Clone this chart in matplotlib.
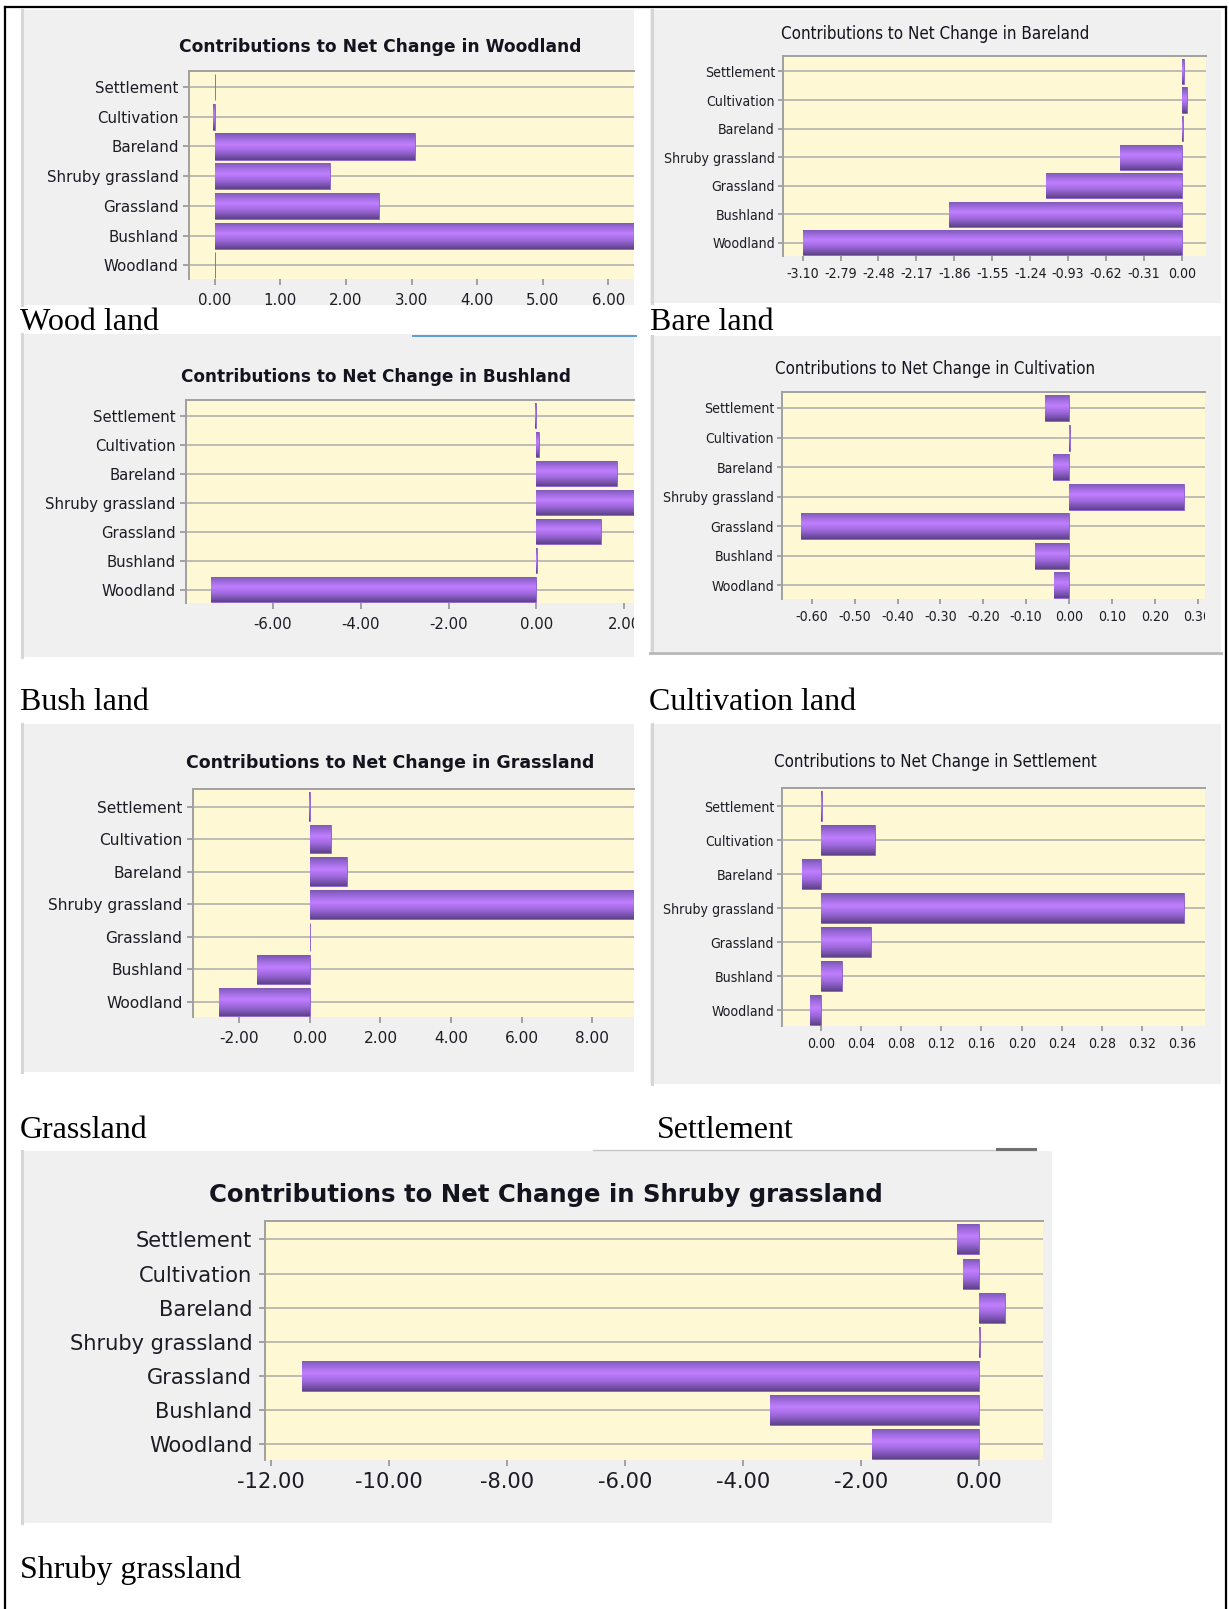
import matplotlib
matplotlib.use("Agg")
import matplotlib.pyplot as plt
import numpy as np
from matplotlib import font_manager as fm
from matplotlib.patches import Rectangle
from matplotlib.lines import Line2D
from matplotlib.colors import LinearSegmentedColormap
from matplotlib.transforms import Bbox, TransformedBbox

# ---------------- data ----------------
categories = ["Settlement", "Cultivation", "Bareland", "Shruby grassland",
              "Grassland", "Bushland", "Woodland"]

woodland_vals = [0.01, -0.02, 3.06, 1.76, 2.50, 7.42, 0.01]
bareland_vals = [0.018, 0.04, 0.005, -0.503, -1.113, -1.90, -3.095]
bushland_vals = [-0.03, 0.05, 1.83, 3.55, 1.48, 0.01, -7.41]
cultivation_vals = [-0.057, 0.002, -0.038, 0.269, -0.625, -0.079, -0.034]
grassland_vals = [-0.03, 0.60, 1.04, 11.47, 0.01, -1.50, -2.58]
settlement_vals = [0.001, 0.054, -0.019, 0.362, 0.050, 0.021, -0.011]
shruby_vals = [-0.38, -0.27, 0.44, 0.01, -11.47, -3.55, -1.81]

woodland_ticks = [0.00, 1.00, 2.00, 3.00, 4.00, 5.00, 6.00]
bareland_ticks = [-3.10, -2.79, -2.48, -2.17, -1.86, -1.55, -1.24, -0.93, -0.62, -0.31, 0.00]
bushland_ticks = [-6.00, -4.00, -2.00, 0.00, 2.00]
cultivation_ticks = [-0.60, -0.50, -0.40, -0.30, -0.20, -0.10, 0.00, 0.10, 0.20, 0.30]
grassland_ticks = [-2.00, 0.00, 2.00, 4.00, 6.00, 8.00]
settlement_ticks = [0.00, 0.04, 0.08, 0.12, 0.16, 0.20, 0.24, 0.28, 0.32, 0.36]
shruby_ticks = [-12.00, -10.00, -8.00, -6.00, -4.00, -2.00, 0.00]

titles = ["Contributions to Net Change in Woodland",
          "Contributions to Net Change in Bareland",
          "Contributions to Net Change in Bushland",
          "Contributions to Net Change in Cultivation",
          "Contributions to Net Change in Grassland",
          "Contributions to Net Change in Settlement",
          "Contributions to Net Change in Shruby grassland"]
captions = ["Wood land", "Bare land", "Bush land", "Cultivation land",
            "Grassland", "Settlement", "Shruby grassland"]

# ---------------- fonts ----------------
_ttf = fm.fontManager.ttflist
_names = {f.name for f in _ttf}
if "Liberation Sans Narrow" in _names:
    NARROW = dict(fontfamily="Liberation Sans Narrow", fontstretch="normal")
elif any(f.name == "DejaVu Sans" and str(f.stretch) in ("condensed", "semi-condensed")
         for f in _ttf):
    NARROW = dict(fontfamily="DejaVu Sans", fontstretch="condensed")
else:
    NARROW = dict(fontfamily="Liberation Sans", fontstretch="normal")
WIDE = dict(fontfamily="DejaVu Sans", fontstretch="normal")

# ---------------- figure ----------------
W, H = 1229, 1609
fig = plt.figure(figsize=(W / 100, H / 100), dpi=100)
fig.patch.set_facecolor("white")
renderer = fig.canvas.get_renderer()


def fx(x):
    return x / W


def fy(y):
    return 1 - y / H


def add_rect(x0, y0, x1, y1, color, z=-5):
    fig.patches.append(Rectangle((fx(x0), fy(y1)), (x1 - x0) / W, (y1 - y0) / H,
                                 transform=fig.transFigure, facecolor=color,
                                 edgecolor="none", zorder=z))


def add_line(xs, ys, color, lw, z=-4, ls="-"):
    fig.lines.append(Line2D([fx(x) for x in xs], [fy(y) for y in ys],
                            transform=fig.transFigure, color=color, lw=lw,
                            zorder=z, ls=ls))


def fit_size(text, font, weight, target_px, base=12.0):
    t = fig.text(0, 0, text, fontsize=base, fontweight=weight, **font)
    w = t.get_window_extent(renderer).width
    t.remove()
    return base * target_px / w


cmap = LinearSegmentedColormap.from_list(
    "barg", [(0.0, "#7a56b2"), (0.15, "#9567d3"), (0.42, "#c17fff"),
             (0.68, "#9d68db"), (0.88, "#7651ab"), (1.0, "#5e4287")])
grad = np.linspace(0, 1, 64).reshape(-1, 1)

styles = {
    "A": dict(font=WIDE, tweight="bold", tlen=4.3, ypad=3.2, xpad=5.6),
    "B": dict(font=NARROW, tweight="normal", tlen=3.6, ypad=2.2, xpad=4.6),
    "C": dict(font=WIDE, tweight="bold", tlen=4.6, ypad=4.5, xpad=4.0),
}

panels = [
    dict(vals=woodland_vals, ticks=woodland_ticks, style="A", bg=(21, 10, 634, 305),
         plot=(189, 71, 634, 279), xlim=(-0.39, 6.39), title_xy=(380, 47),
         title_w=400, label_w=130, cap_xy=(20, 322)),
    dict(vals=bareland_vals, ticks=bareland_ticks, style="B", bg=(650, 10, 1221, 303),
         plot=(783, 56, 1206, 256), xlim=(-3.26, 0.196), title_xy=(935, 34),
         title_w=308, label_w=110, cap_xy=(650, 322)),
    dict(vals=bushland_vals, ticks=bushland_ticks, style="A", bg=(21, 334, 634, 657),
         plot=(186, 400, 634, 603), xlim=(-7.98, 2.22), title_xy=(376, 377),
         title_w=387, label_w=129, cap_xy=(20, 703)),
    dict(vals=cultivation_vals, ticks=cultivation_ticks, style="B", bg=(650, 336, 1221, 652),
         plot=(782, 392, 1205, 599), xlim=(-0.670, 0.3175), title_xy=(935, 369),
         title_w=320, label_w=110, cap_xy=(649, 703)),
    dict(vals=grassland_vals, ticks=grassland_ticks, style="A", bg=(21, 724, 634, 1072),
         plot=(193, 789, 634, 1017), xlim=(-3.31, 9.18), title_xy=(390, 763),
         title_w=407, label_w=134, cap_xy=(20, 1130)),
    dict(vals=settlement_vals, ticks=settlement_ticks, style="B", bg=(650, 724, 1221, 1084),
         plot=(782, 788, 1205, 1026), xlim=(-0.0385, 0.3824), title_xy=(935, 762),
         title_w=322, label_w=110, cap_xy=(657, 1130)),
    dict(vals=shruby_vals, ticks=shruby_ticks, style="C", bg=(21, 1151, 1052, 1523),
         plot=(265, 1221, 1043, 1460), xlim=(-12.1, 1.08), title_xy=(546, 1195),
         title_w=675, label_w=182, cap_xy=(20, 1570)),
]

# outer black frame
add_line([5, 5], [7, H], "black", 1.6, z=5)
add_line([5, 1226], [7, 7], "black", 1.6, z=5)
add_line([1226, 1226], [7, H], "black", 1.6, z=5)

ypos = np.arange(len(categories))

for i, p in enumerate(panels):
    st = styles[p["style"]]
    font = st["font"]
    x0, y0, x1, y1 = p["bg"]
    add_rect(x0, y0, x1, y1, "#f0f0f0")
    add_line([x0 + 1.5, x0 + 1.5], [y0, y1], "#d6d6d6", 2.2, z=-4)

    px0, py0, px1, py1 = p["plot"]
    ax = fig.add_axes([fx(px0), fy(py1), (px1 - px0) / W, (py1 - py0) / H])
    ax.set_facecolor("#fef8d5")
    ax.set_axisbelow(True)

    bars = ax.barh(ypos, p["vals"], height=0.88, color="#a070e0",
                   edgecolor="#9468d0", linewidth=0.7, zorder=2)
    for b in bars:
        bx, by, bw, bh = b.get_x(), b.get_y(), b.get_width(), b.get_height()
        im = ax.imshow(grad, cmap=cmap, extent=(bx, bx + bw, by + bh, by),
                       aspect="auto", interpolation="bilinear", zorder=3)
        im.set_clip_path(b.get_path(), b.get_transform())

    ax.set_xlim(*p["xlim"])
    ax.set_ylim(6.46, -0.54)
    ax.set_aspect("auto")

    lsize = fit_size("Shruby grassland", font, "normal", p["label_w"])
    ax.set_yticks(ypos, categories, fontsize=lsize, color="#1c1c24", **font)
    ax.set_xticks(p["ticks"], [f"{t:.2f}" for t in p["ticks"]],
                  fontsize=lsize, color="#1c1c24", **font)
    ax.yaxis.grid(True, color="#ababab", lw=1.1)
    ax.xaxis.grid(False)
    for s in ("right", "bottom"):
        ax.spines[s].set_visible(False)
    for s in ("left", "top"):
        ax.spines[s].set_color("#a0a0a0")
        ax.spines[s].set_linewidth(1.4)
    ax.tick_params(axis="y", direction="out", length=st["tlen"], width=1.1,
                   color="#8c8c8c", pad=st["ypad"])
    ax.tick_params(axis="x", direction="out", length=st["tlen"], width=1.1,
                   color="#8c8c8c", pad=st["xpad"])

    clip = TransformedBbox(Bbox.from_extents(0, 0, fx(px1), 1), fig.transFigure)
    for lbl in ax.get_xticklabels():
        lbl.set_clip_box(clip)
        lbl.set_clip_on(True)

    tx, ty = p["title_xy"]
    tsize = fit_size(titles[i], font, st["tweight"], p["title_w"])
    fig.text(fx(tx), fy(ty), titles[i], ha="center", va="center",
             fontsize=tsize, fontweight=st["tweight"], color="#14141e", **font)

    cx, cy = p["cap_xy"]
    fig.text(fx(cx), fy(cy), captions[i], ha="left", va="center",
             fontfamily="Liberation Serif", fontsize=23, color="black")

# small screenshot artifacts
add_line([413, 636], [336, 336], "#5b9bd5", 1.4, z=6)
add_line([593, 1035], [1150, 1150], "#c8c8c8", 1.0, z=6)
add_line([997, 1035], [1149, 1149], "#707070", 2.2, z=6)
add_line([650, 1221], [653, 653], "#b8b8b8", 2.0, z=6)

fig.savefig("out.png", dpi=100, facecolor="white")
